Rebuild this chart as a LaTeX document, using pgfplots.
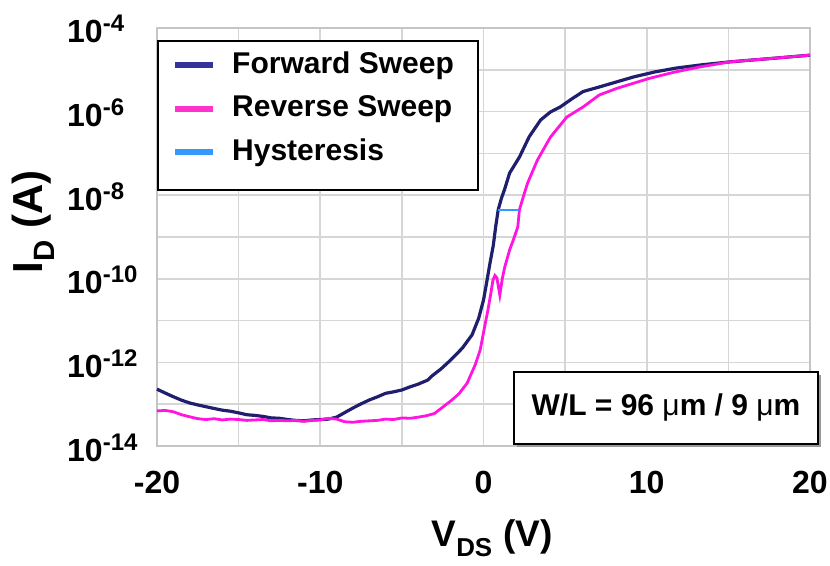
\documentclass[border=0pt]{standalone}
\usepackage{pgfplots}
\pgfplotsset{compat=1.18}
\usepackage{fontspec}
\setmainfont{Liberation Sans}
\usetikzlibrary{shadows}

\definecolor{fwd}{HTML}{1F1F6E}
\definecolor{fwdleg}{HTML}{333399}
\definecolor{rev}{HTML}{FF14E0}
\definecolor{revleg}{HTML}{FF33CC}
\definecolor{hys}{HTML}{3399FF}
\definecolor{gridc}{HTML}{D6D6D6}

% decade label: 10 with a raised exponent
\newcommand{\dec}[1]{\fontsize{32}{32}\selectfont\bfseries 10\raisebox{11pt}{\fontsize{24}{24}\selectfont #1}}
\newcommand{\xt}[1]{\fontsize{32}{32}\selectfont\bfseries #1}

\begin{document}
\begin{tikzpicture}
\begin{axis}[
  scale only axis,
  width=653pt, height=418pt,
  xmin=-20, xmax=20,
  ymode=log, ymin=1e-14, ymax=1e-4,
  xtick={-20,-10,0,10,20},
  xticklabels={\xt{-20},\xt{-10},\xt{0},\xt{10},\xt{20}},
  minor xtick={-15,-5,5,15},
  ytick={1e-14,1e-12,1e-10,1e-8,1e-6,1e-4},
  yticklabels={{\dec{-14}},{\dec{-12}},{\dec{-10}},{\dec{-8}},{\dec{-6}},{\dec{-4}}},
  minor ytick={1e-13,1e-11,1e-9,1e-7,1e-5},
  grid=both,
  major grid style={gridc, line width=1.5pt},
  minor grid style={gridc, line width=1.5pt},
  axis line style={gridc!80!gray, line width=1.5pt},
  major tick length=0pt, minor tick length=0pt,
  xticklabel style={anchor=base, inner sep=0pt, yshift=-47pt},
  yticklabel style={anchor=base west, inner sep=0pt, xshift=-90pt, yshift=-15pt},
  xlabel={\fontsize{37}{37}\selectfont\bfseries V\textsubscript{DS} (V)},
  ylabel={\fontsize{42}{42}\selectfont\bfseries I\textsubscript{D} (A)},
  xlabel style={at={(axis description cs:0.513,-0.2416)}, anchor=base},
  ylabel style={at={(axis description cs:-0.1746,0.536)}, anchor=base},
  clip=false,
  legend cell align=left,
  legend image code/.code={\draw[#1, line width=6pt] (0pt,0pt) -- (38pt,0pt);},
  legend style={draw=none, fill=none, at={(rel axis cs:0.023,0.945)}, anchor=north west,
    inner sep=0pt, row sep=15.5pt, column sep=16pt,
    font=\fontsize{30}{36}\selectfont\bfseries,
    nodes={inner sep=0pt, text height=22pt, text depth=6pt}},
]
\coordinate (bl) at (rel axis cs:0,0);
\coordinate (tr) at (rel axis cs:1,1);

\addlegendimage{fwdleg}
\addlegendimage{revleg}
\addlegendimage{hys}
\legend{Forward Sweep, Reverse Sweep, Hysteresis}

% forward sweep
\addplot[fwd, line width=3.2pt, forget plot] coordinates {
(-20,2.29e-13) (-19.5,1.85e-13) (-19,1.51e-13) (-18.5,1.25e-13) (-18,1.07e-13)
(-17.5,9.6e-14) (-17,8.7e-14) (-16.5,7.9e-14) (-16,7.2e-14) (-15.5,6.8e-14)
(-15,6.2e-14) (-14.5,5.6e-14) (-14,5.4e-14) (-13.5,5.1e-14) (-13,4.7e-14)
(-12.5,4.6e-14) (-12,4.3e-14) (-11.5,4.1e-14) (-11,4.0e-14) (-10.5,4.2e-14)
(-10,4.3e-14) (-9.5,4.4e-14) (-9,4.9e-14) (-8.5,6.3e-14) (-8,8.1e-14)
(-7.5,1.02e-13) (-7,1.26e-13) (-6.5,1.5e-13) (-6,1.82e-13) (-5.5,1.98e-13)
(-5,2.19e-13) (-4.5,2.6e-13) (-4,3.02e-13) (-3.4,3.8e-13) (-3.2,4.6e-13)
(-2.6,7.0e-13) (-2,1.15e-12) (-1.3,2.19e-12) (-0.7,4.57e-12) (-0.3,1.12e-11)
(0,3.09e-11) (0.2,8.5e-11) (0.4,2.4e-10) (0.6,6.3e-10) (0.75,1.8e-9)
(0.9,4.47e-9) (1.1,8.5e-9) (1.3,1.41e-8) (1.6,3.39e-8) (2.2,8.13e-8)
(2.8,2.51e-7) (3.5,6.31e-7) (4.1,9.8e-7) (4.7,1.29e-6) (5.4,2.0e-6)
(6.1,3.02e-6) (7.1,3.89e-6) (8.2,5.2e-6) (9.2,6.76e-6) (10.5,8.9e-6)
(11.8,1.10e-5) (13.4,1.32e-5) (15.1,1.55e-5) (17.5,1.85e-5) (20,2.24e-5)
};

% reverse sweep
\addplot[rev, line width=2.8pt, forget plot] coordinates {
(-20,6.9e-14) (-19.5,7.1e-14) (-19,6.6e-14) (-18.5,5.6e-14) (-18,5.0e-14)
(-17.5,4.5e-14) (-17,4.3e-14) (-16.5,4.5e-14) (-16,4.2e-14) (-15.5,4.4e-14)
(-15,4.3e-14) (-14.5,4.1e-14) (-14,4.2e-14) (-13.5,4.3e-14) (-13,4.0e-14)
(-12.5,4.1e-14) (-12,4.0e-14) (-11.5,4.1e-14) (-11,3.9e-14) (-10.5,4.1e-14)
(-10,4.2e-14) (-9.5,4.6e-14) (-9,4.4e-14) (-8.5,3.8e-14) (-8,3.7e-14)
(-7.5,3.9e-14) (-7,4.0e-14) (-6.5,4.1e-14) (-6,4.4e-14) (-5.5,4.3e-14)
(-5,4.7e-14) (-4.5,4.6e-14) (-4,4.9e-14) (-3.5,5.3e-14) (-3,6.0e-14)
(-2.5,8.5e-14) (-2,1.2e-13) (-1.5,1.78e-13) (-1,3.2e-13) (-0.5,8.9e-13)
(-0.2,2.0e-12) (0.05,6.5e-12) (0.27,1.78e-11) (0.45,4.5e-11) (0.58,9.3e-11)
(0.7,1.2e-10) (0.82,1.05e-10) (1.0,4.1e-11) (1.15,1.0e-10) (1.3,1.9e-10)
(1.6,4.9e-10) (1.85,9.0e-10) (2.1,1.74e-9) (2.2,4.47e-9) (2.45,9.5e-9)
(2.7,1.95e-8) (3.3,6.9e-8) (4.1,2.45e-7) (5.1,7.4e-7) (6.1,1.29e-6)
(7.1,2.51e-6) (8.2,3.63e-6) (10.2,6.3e-6) (11.7,8.8e-6) (13.25,1.17e-5)
(15.1,1.55e-5) (17.5,1.85e-5) (20,2.24e-5)
};

% hysteresis width at 4.5 nA
\addplot[hys, line width=2.5pt, forget plot] coordinates {(0.88,4.47e-9) (2.2,4.47e-9)};

% legend frame
\draw[black, line width=1.5pt, fill=white] (rel axis cs:0.0015,0.969) rectangle (rel axis cs:0.4916,0.6124);

% device geometry
\node[draw=black, line width=1.5pt, fill=white, minimum width=304pt, minimum height=72pt,
  inner sep=0pt, drop shadow={shadow xshift=3pt, shadow yshift=-3pt, fill=gray!80, opacity=1},
  font=\fontsize{30}{36}\selectfont\bfseries] at (rel axis cs:0.7795,0.0909)
  {W/L = 96 {\mdseries μ}m / 9 {\mdseries μ}m};
\end{axis}
\pgfresetboundingbox
\path ([shift={(-157pt,-120pt)}]bl) rectangle ([shift={(20pt,28pt)}]tr);
\end{tikzpicture}
\end{document}
